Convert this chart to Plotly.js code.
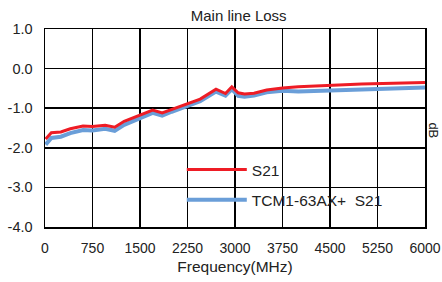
<!DOCTYPE html>
<html><head><meta charset="utf-8">
<script src="https://cdn.plot.ly/plotly-3.0.1.min.js"></script>
<style>html,body{margin:0;padding:0;background:#fff}#c{width:442px;height:282px}</style>
</head><body><div id="c"></div>
<script>
const freq = [10, 100, 250, 400, 600, 750, 950, 1100, 1250, 1350, 1550, 1700, 1850, 2000, 2250, 2450, 2700, 2850, 2950, 3050, 3150, 3300, 3500, 3750, 4000, 4500, 5000, 5500, 6000];
const s21 = [-1.78, -1.62, -1.60, -1.52, -1.45, -1.46, -1.43, -1.48, -1.33, -1.27, -1.15, -1.05, -1.12, -1.03, -0.88, -0.77, -0.52, -0.63, -0.46, -0.61, -0.64, -0.62, -0.54, -0.49, -0.46, -0.42, -0.39, -0.37, -0.35];
const tcm = [-1.92, -1.75, -1.72, -1.63, -1.55, -1.56, -1.52, -1.57, -1.42, -1.36, -1.22, -1.12, -1.19, -1.09, -0.93, -0.82, -0.58, -0.68, -0.52, -0.69, -0.71, -0.68, -0.60, -0.56, -0.58, -0.55, -0.52, -0.50, -0.48];
const xTickVals = [0, 750, 1500, 2250, 3000, 3750, 4500, 5250, 6000];
const xTickText = ['0', '750', '1500', '2250', '3000', '3750', '4500', '5250', '6000'];
const yTickVals = [1, 0, -1, -2, -3, -4];
const yTickText = ['1.0', '0.0', '-1.0', '-2.0', '-3.0', '-4.0'];
const names = ['S21', 'TCM1-63AX+  S21'];

const fam = 'Liberation Sans, Arial, sans-serif';
const f = (s) => ({family: fam, size: s, color: '#222'});
const data = [
  {x: freq, y: tcm, name: names[1], mode: 'lines', line: {color: '#6a9ed8', width: 4}, legend: 'legend2', showlegend: true},
  {x: freq, y: s21, name: names[0], mode: 'lines', line: {color: '#ee1c25', width: 3}, legend: 'legend', showlegend: true}
];
const layout = {
  width: 442, height: 282,
  margin: {l: 45, r: 17, t: 29, b: 55},
  paper_bgcolor: '#fff', plot_bgcolor: '#fff',
  font: f(14),
  showlegend: true,
  title: {text: 'Main line Loss', font: f(15), x: 0.54, xanchor: 'center', y: 0.945, yanchor: 'middle'},
  xaxis: {range: [0, 6000], tickvals: xTickVals, ticktext: xTickText, showgrid: true, gridcolor: '#000', gridwidth: 1.5,
          showline: true, linecolor: '#000', linewidth: 1.5, mirror: true, zeroline: false, ticks: '',
          ticklabelstandoff: 8,
          tickfont: f(14), title: {text: 'Frequency(MHz)', font: f(15.5), standoff: 6}, automargin: false},
  yaxis: {range: [-4, 1], tickvals: yTickVals, ticktext: yTickText, showgrid: true, gridcolor: '#000', gridwidth: 1.5,
          showline: true, linecolor: '#000', linewidth: 1.5, mirror: true, zeroline: false, ticks: '',
          ticklabelstandoff: 8,
          tickfont: f(14.5), automargin: false},
  legend: {x: 0.36, y: 0.288, xanchor: 'left', yanchor: 'middle', bgcolor: 'rgba(0,0,0,0)', font: f(15.5), itemwidth: 60},
  legend2: {x: 0.36, y: 0.136, xanchor: 'left', yanchor: 'middle', bgcolor: 'rgba(0,0,0,0)', font: f(15.5), itemwidth: 60},
  annotations: [{text: 'dB', xref: 'paper', yref: 'paper', x: 1.045, y: 0.49, textangle: 90, showarrow: false, font: f(13)}]
};
Plotly.newPlot('c', data, layout, {displayModeBar: false, staticPlot: true});
</script></body></html>
